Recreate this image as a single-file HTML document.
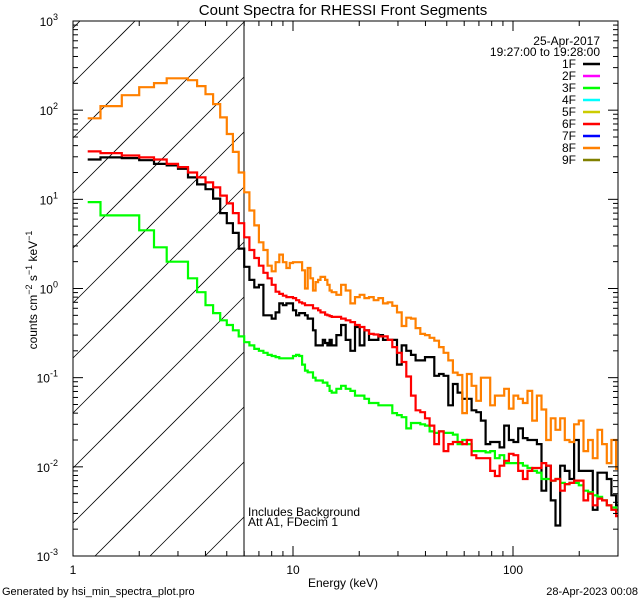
<!DOCTYPE html>
<html><head><meta charset="utf-8"><style>
html,body{margin:0;padding:0;background:#fff;width:640px;height:600px;overflow:hidden;}
svg{display:block;font-family:"Liberation Sans",sans-serif;}
</style></head><body>
<svg id="chart" width="640" height="600" viewBox="0 0 640 600" xmlns="http://www.w3.org/2000/svg">
<rect width="640" height="600" fill="#fff"/>
<defs><clipPath id="pc"><rect x="73" y="21" width="545" height="535"/></clipPath></defs>
<text x="343" y="15" font-size="15" text-anchor="middle">Count Spectra for RHESSI Front Segments</text>
<g id="hatch"></g>
<line x1="244" y1="21" x2="244" y2="556" stroke="#000" stroke-width="1"/>
<g id="series" clip-path="url(#pc)"></g>
<rect x="73" y="21" width="545" height="535" fill="none" stroke="#000" stroke-width="1"/>
<g id="axes"></g>
<text transform="translate(37,290) rotate(-90)" font-size="12" text-anchor="middle">counts cm<tspan dy="-5" font-size="9">−2</tspan><tspan dy="5"> s</tspan><tspan dy="-5" font-size="9">−1</tspan><tspan dy="5"> keV</tspan><tspan dy="-5" font-size="9">−1</tspan></text>
<text x="343" y="587" font-size="12" text-anchor="middle">Energy (keV)</text>
<text x="600" y="45" font-size="12" text-anchor="end">25-Apr-2017</text>
<text x="600" y="56" font-size="12" text-anchor="end">19:27:00 to 19:28:00</text>
<g id="legend"></g>
<text x="248" y="516" font-size="12">Includes Background</text>
<text x="248" y="526" font-size="12">Att A1, FDecim 1</text>
<text x="2" y="595" font-size="11">Generated by hsi_min_spectra_plot.pro</text>
<text x="638" y="595" font-size="11" text-anchor="end">28-Apr-2023 00:08</text>
</svg>
<script>
// energy bin edges (keV)
const edges = [7/6];
for (let i = 1; i <= 42; i++) edges.push(1 + i/3);
for (let j = 1; j <= 62; j++) edges.push(15 * Math.pow(1.05, j));

const seg1F = [28,29.5,29,27.5,25,24,22,17.6,14.7,13,10.2,7,5.4,4.2,2.8,1.75,1.25,1.03,1.1,0.5,0.5,0.46,0.54,0.68,0.65,0.68,0.68,0.57,0.5,0.53,0.53,0.5,0.46,0.46,0.34,0.23,0.23,0.23,0.265,0.245,0.23,0.265,
0.23,0.3,0.39,0.265,0.2,0.37,0.23,0.34,0.265,0.265,0.3,0.265,0.265,0.265,0.14,0.23,0.2,0.18,0.156,0.156,0.17,0.17,0.105,0.11,0.105,0.049,0.085,0.068,0.058,0.058,0.043,0.041,0.033,0.018,0.019,0.019,0.0165,0.029,0.02,0.019,0.027,0.021,0.02,0.02,0.018,0.0054,0.0103,0.0042,0.0022,0.0103,0.009,0.0073,0.02,0.009,0.009,0.009,0.0033,0.0086,0.0086,0.0073,0.0048,0.0037];
const seg3F = [9.3,6.6,6.6,4.5,2.9,2.0,2.0,1.3,0.91,0.65,0.53,0.44,0.39,0.34,0.29,0.25,0.23,0.21,0.2,0.19,0.18,0.175,0.17,0.165,0.165,0.165,0.165,0.175,0.18,0.175,0.14,0.12,0.115,0.115,0.1,0.093,0.093,0.093,0.088,0.088,0.081,0.071,
0.068,0.075,0.081,0.075,0.071,0.063,0.063,0.058,0.052,0.052,0.049,0.049,0.049,0.04,0.038,0.036,0.027,0.031,0.031,0.03,0.029,0.025,0.024,0.025,0.024,0.024,0.023,0.018,0.02,0.018,0.015,0.015,0.015,0.0145,0.015,0.0125,0.0135,0.011,0.011,0.011,0.011,0.0103,0.0097,0.009,0.0086,0.0073,0.0073,0.007,0.0073,0.0066,0.0064,0.0066,0.0066,0.0062,0.0054,0.0052,0.0048,0.0046,0.0042,0.0037,0.0035,0.0033];
const seg6F = [34.5,33,31,29.5,28,25,23,20,17.6,15.5,13.6,11,9,7,5.4,3.75,2.7,2.2,1.8,1.5,1.3,1.1,0.92,0.87,0.83,0.8,0.8,0.78,0.74,0.7,0.68,0.65,0.65,0.65,0.6,0.6,0.57,0.54,0.54,0.51,0.5,0.49,
0.48,0.48,0.46,0.44,0.42,0.39,0.37,0.34,0.31,0.305,0.29,0.29,0.265,0.22,0.19,0.15,0.103,0.063,0.043,0.041,0.035,0.029,0.018,0.025,0.015,0.018,0.019,0.019,0.018,0.02,0.0135,0.0125,0.0125,0.0125,0.009,0.0079,0.0103,0.0117,0.014,0.0135,0.009,0.0073,0.009,0.0097,0.0097,0.011,0.0103,0.007,0.0073,0.0054,0.0064,0.0066,0.007,0.007,0.0042,0.005,0.0037,0.0044,0.0042,0.0037,0.0033,0.0028];
const seg8F = [81,111,147,181,201,228,228,217,186,151,117,83,54,34,20,12,7.5,5.1,3.3,2.7,1.8,1.56,1.97,2.4,1.97,1.7,1.93,1.97,1.97,1.97,1.6,1.0,1.7,1.3,0.95,1.18,1.25,1.35,1.35,1.25,1.1,0.95,
0.91,0.85,1.1,0.95,0.68,0.8,0.85,0.78,0.8,0.74,0.78,0.68,0.7,0.64,0.54,0.38,0.47,0.46,0.36,0.31,0.3,0.28,0.26,0.22,0.19,0.156,0.114,0.107,0.04,0.11,0.081,0.055,0.1,0.1,0.049,0.063,0.063,0.075,0.045,0.063,0.058,0.052,0.071,0.033,0.063,0.044,0.02,0.035,0.026,0.035,0.02,0.019,0.03,0.033,0.015,0.02,0.0125,0.026,0.018,0.011,0.02,0.0095];

const xTicks = [1, 10, 100];
const xTickLabels = ["1", "10", "100"];
const yExps = [-3, -2, -1, 0, 1, 2, 3];
const legendNames = ["1F","2F","3F","4F","5F","6F","7F","8F","9F"];
const legendColors = ["#000000","#ff00ff","#00ff00","#00ffff","#cccc00","#ff0000","#0000ff","#ff8000","#808000"];

const X0=73, X1=618, Y0=556, Y1=21;
const xmin=1, xmax=Math.pow(10,(X1-X0)/220);
function xs(e){return X0+(Math.log10(e)-Math.log10(xmin))/(Math.log10(xmax)-Math.log10(xmin))*(X1-X0);}
function ys(v){return Y0-(Math.log10(v)+3)/6*(Y0-Y1);}
const NS="http://www.w3.org/2000/svg";
function mk(t,a,p){const e=document.createElementNS(NS,t);for(const k in a)e.setAttribute(k,a[k]);p.appendChild(e);return e;}

// hatch (lines y = c - (x - 73), clipped analytically to the hatched box)
const hg=document.getElementById('hatch');
const HX0=73, HX1=244;
for(let c=83-55*4;c<900;c+=55){
  // x range where y within [Y1, Y0]
  let xa=Math.max(HX0, 73 + c - Y0), xb=Math.min(HX1, 73 + c - Y1);
  if(xb<=xa) continue;
  const l=mk('line',{x1:xa,y1:c-(xa-73),x2:xb,y2:c-(xb-73),stroke:'#000','stroke-width':0.8},hg);
  
  
}

// series
const sg=document.getElementById('series');
function drawSeries(vals,color,name){
  let d='';
  for(let i=0;i<vals.length;i++){
    const xa=Math.min(xs(edges[i]),X1).toFixed(1), xb=Math.min(xs(edges[i+1]),X1).toFixed(1), y=ys(vals[i]).toFixed(1);
    d+=(i===0?'M':'L')+xa+','+y+'L'+xb+','+y;
  }
  const p=mk('path',{d:d,fill:'none',stroke:color,'stroke-width':2.2,'stroke-linejoin':'miter'},sg);
  
  
}
drawSeries(seg1F,'#000000','series-1f');
drawSeries(seg3F,'#00ff00','series-3f');
drawSeries(seg6F,'#ff0000','series-6f');
drawSeries(seg8F,'#ff8000','series-8f');

// axes ticks
const ag=document.getElementById('axes');
function tk(x1,y1,x2,y2){const l=mk('line',{x1,y1,x2,y2,stroke:'#000','stroke-width':1},ag);
  
  }
for(let dec=1;dec<=100;dec*=10){
  for(let m=1;m<10;m++){const e=dec*m; if(e>xmax)break; const x=xs(e); const L=(m===1)?10:5;
    tk(x,Y0,x,Y0-L); tk(x,Y1,x,Y1+L);}
}
for(let ex=-3;ex<=3;ex++){
  for(let m=1;m<10;m++){ if(ex===3&&m>1)break; const y=ys(m*Math.pow(10,ex)); const L=(m===1)?10:5;
    tk(X0,y,X0+L,y); tk(X1,y,X1-L,y);}
}
xTicks.forEach((v,i)=>{const t=mk('text',{x:xs(v),y:574,'font-size':12,'text-anchor':'middle'},ag);t.textContent=xTickLabels[i];
  
  });
yExps.forEach(ex=>{const t=mk('text',{x:58,y:ys(Math.pow(10,ex))+5,'font-size':12,'text-anchor':'end'},ag);
  t.textContent='10';const s=mk('tspan',{dy:-6,'font-size':9},t);s.textContent=String(ex);
  
  });

// legend
const lg=document.getElementById('legend');
legendNames.forEach((n,i)=>{const y=64+i*12;
  const t=mk('text',{x:576,y:y+4,'font-size':12,'text-anchor':'end'},lg);t.textContent=n;
  
  
  const l=mk('line',{x1:583,y1:y,x2:600,y2:y,stroke:legendColors[i],'stroke-width':2.5},lg);
  
  });
</script>
</body></html>
